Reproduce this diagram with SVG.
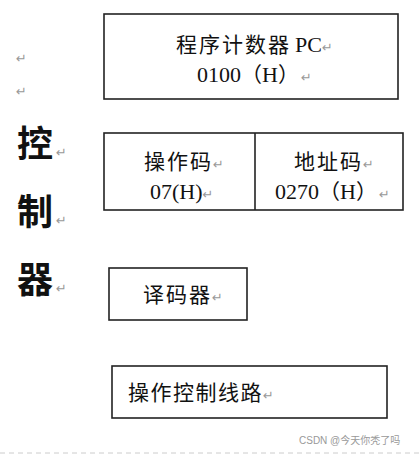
<svg xmlns="http://www.w3.org/2000/svg" width="420" height="455" viewBox="0 0 420 455">
<style>
.box{fill:#fff;stroke:#222;stroke-width:1.6}
.cjk{font-family:"Noto Sans CJK SC","Noto Sans",sans-serif;font-size:21px;fill:#111}
.lat{font-family:"Liberation Serif","Noto Sans CJK SC",serif;font-size:22px;fill:#111}
.big{font-family:"Noto Sans CJK SC",sans-serif;font-size:36px;font-weight:bold;fill:#111}
.ret{font-family:"DejaVu Sans",sans-serif;font-size:13px;fill:#999}
.wm{font-family:"Liberation Sans","Noto Sans CJK SC",sans-serif;font-size:10px;fill:#999}
</style>
<rect width="420" height="455" fill="#fff"/>
<g id="margin-marks">
<text class="ret" x="16" y="63">↵</text>
<text class="ret" x="16" y="96">↵</text>
</g>
<g id="label-controller">
<text class="big" x="17" y="157">控</text><text class="ret" x="56" y="157">↵</text>
<text class="big" x="17" y="225">制</text><text class="ret" x="56" y="225">↵</text>
<text class="big" x="17" y="293">器</text><text class="ret" x="56" y="293">↵</text>
</g>
<g id="pc">
<rect class="box" x="104" y="14" width="294" height="85"/>
<text x="176" y="52"><tspan class="cjk" letter-spacing="2">程序计数器</tspan><tspan class="lat" dx="4">PC</tspan><tspan class="ret">↵</tspan></text>
<text x="197" y="82"><tspan class="lat">0100</tspan><tspan class="cjk">（</tspan><tspan class="lat">H</tspan><tspan class="cjk">）</tspan><tspan class="ret" dx="2">↵</tspan></text>
</g>
<g id="ir">
<rect class="box" x="104" y="133" width="299" height="77"/>
<line x1="255" y1="133" x2="255" y2="210" stroke="#222" stroke-width="1.6"/>
<g id="opcode">
<text x="144" y="169"><tspan class="cjk" letter-spacing="2">操作码</tspan><tspan class="ret">↵</tspan></text>
<text x="150" y="199"><tspan class="lat">07(H)</tspan><tspan class="ret">↵</tspan></text>
</g>
<g id="address">
<text x="294" y="169"><tspan class="cjk" letter-spacing="2">地址码</tspan><tspan class="ret">↵</tspan></text>
<text x="275" y="199"><tspan class="lat">0270</tspan><tspan class="cjk">（</tspan><tspan class="lat">H</tspan><tspan class="cjk">）</tspan><tspan class="ret" dx="2">↵</tspan></text>
</g>
</g>
<g id="decoder">
<rect class="box" x="109" y="268" width="138" height="52"/>
<text x="143" y="302"><tspan class="cjk" letter-spacing="2">译码器</tspan><tspan class="ret">↵</tspan></text>
</g>
<g id="control">
<rect class="box" x="112" y="366" width="275" height="52"/>
<text x="128" y="400"><tspan class="cjk" letter-spacing="1.5">操作控制线路</tspan><tspan class="ret">↵</tspan></text>
</g>
<g id="connectors"/>
<text class="wm" x="299" y="444">CSDN @今天你秃了吗</text>
<line x1="0" y1="453" x2="420" y2="453" stroke="#ccc" stroke-width="1" stroke-dasharray="5 4"/>
</svg>
